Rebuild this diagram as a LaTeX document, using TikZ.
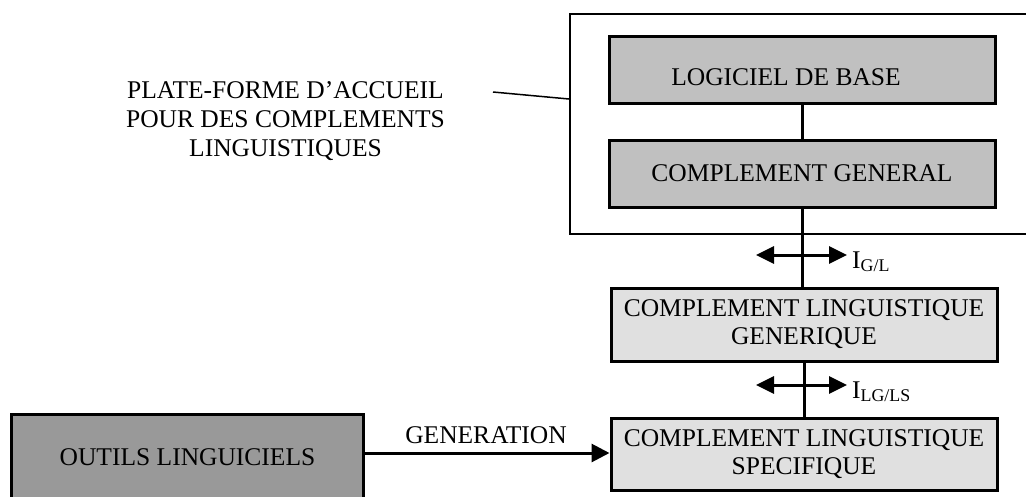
\documentclass[tikz,border=0pt]{standalone}
\usepackage{fontspec}
\setmainfont{Liberation Serif}
\usetikzlibrary{arrows.meta}
\definecolor{topfill}{HTML}{C0C0C0}
\definecolor{midfill}{HTML}{E0E0E0}
\definecolor{toolfill}{HTML}{999999}
\begin{document}
\begin{tikzpicture}[x=1pt,y=-1pt,
  every node/.style={font=\fontsize{25.5}{28}\selectfont, inner sep=0pt},
  box/.style={draw, line width=3pt, minimum width=386pt, align=center},
  conn/.style={line width=3pt},
  arr/.style={line width=3pt, -{Triangle[length=18pt,width=18pt]}},
  dbl/.style={line width=3pt, {Triangle[length=18pt,width=17pt]}-{Triangle[length=18pt,width=17pt]}},
]
\useasboundingbox (0,0) rectangle (1026,496);
\clip (0,0) rectangle (1026,496);

% outer platform frame
\node[draw, line width=2pt, minimum width=520pt, minimum height=220pt, anchor=north west] (plat) at (569,13) {};

% boxes
\node[box, fill=topfill, text height=49.5pt, text depth=17.5pt] (base) at (802,69.5) {LOGICIEL DE BASE\hspace*{32pt}};
\node[box, fill=topfill, minimum height=67pt] (gen) at (802,173.5) {COMPLEMENT GENERAL};
\node[box, fill=midfill, minimum height=73pt] (clg) at (804,324.5) {COMPLEMENT LINGUISTIQUE\\GENERIQUE};
\node[box, fill=midfill, minimum height=72pt] (cls) at (804,454) {COMPLEMENT LINGUISTIQUE\\SPECIFIQUE};
\node[draw, line width=3pt, fill=toolfill, minimum width=352pt, text height=50.5pt, text depth=66.5pt, anchor=north west] (outils) at (10,413) {OUTILS LINGUICIELS};

% platform label and leader
\node[align=center, font=\fontsize{25.5}{29}\selectfont] (platlbl) at (285.5,121) {PLATE-FORME D'ACCUEIL\\POUR DES COMPLEMENTS\\LINGUISTIQUES};
\coordinate (l0) at (493,92);
\coordinate (l1) at ([yshift=-86pt]plat.north west);
\draw[line width=1.5pt] (l0) -- (l1);

% vertical connectors
\draw[conn] (base.south) -- (gen.north);
\draw[conn] (gen.south) -- (gen.south |- clg.north);
\draw[conn] (clg.south) -- (clg.south |- cls.north);

% interface arrows
\coordinate (a1l) at (756,255);
\coordinate (a1r) at (847,255);
\draw[dbl] (a1l) -- (a1r);
\node[anchor=base west] (igl) at (852,268) {I\textsubscript{G/L}};
\coordinate (a2l) at (756,385);
\coordinate (a2r) at (847,385);
\draw[dbl] (a2l) -- (a2r);
\node[anchor=base west] (ilg) at (852,398) {I\textsubscript{LG/LS}};

% generation arrow
\coordinate (g0) at ([yshift=-40pt]outils.north east);
\draw[arr] (g0) -- (g0 -| cls.west);
\node[anchor=base] (genlbl) at (486,443) {GENERATION};
\end{tikzpicture}
\end{document}
